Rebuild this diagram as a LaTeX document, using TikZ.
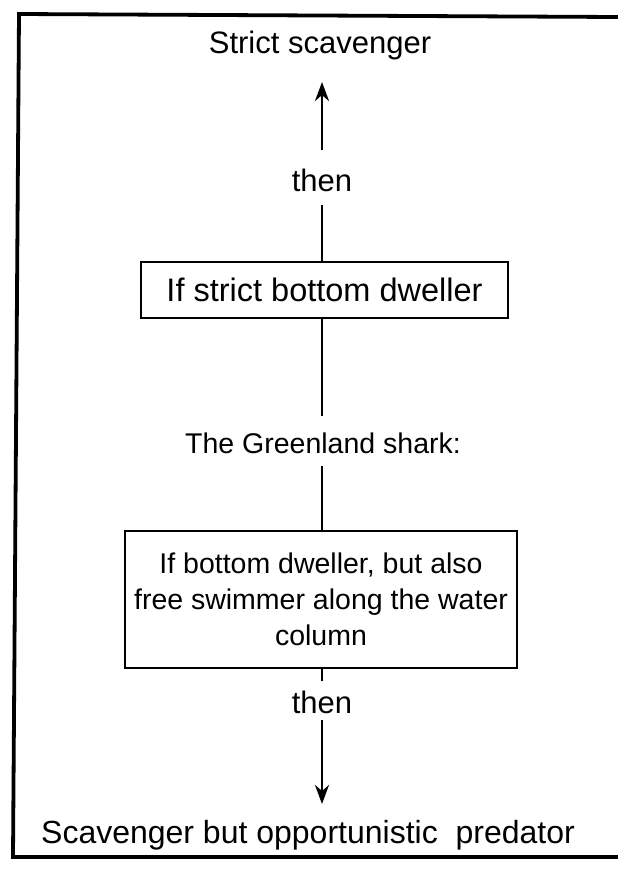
\documentclass[tikz,border=0pt]{standalone}
\usepackage{fontspec}
\setmainfont{Liberation Sans}
\usetikzlibrary{arrows.meta}
\begin{document}
\begin{tikzpicture}[x=1pt,y=-1pt,
  txt/.style={font=\fontsize{31}{37}\selectfont, inner sep=0pt, align=center},
  boxnode/.style={draw, line width=1.8pt, inner sep=0pt, align=center},
  conn/.style={line width=2.8pt},
  arr/.style={line width=2.8pt, -{Stealth[length=19pt,width=14pt,inset=6pt]}}]
\useasboundingbox (0,0) rectangle (618,871);
% frame
\draw[line width=3.8pt] (618,17) -- (19,14) -- (13,857) -- (618,857);
% nodes
\node[txt] (top) at (320,45) {Strict scavenger};
\node[txt] (then1) at (322,180) {then};
\node[boxnode, font=\fontsize{32.5}{38}\selectfont, minimum width=367pt, minimum height=56pt] (b1) at (324.5,290) {If strict bottom dweller};
\node[txt, font=\fontsize{28.5}{36}\selectfont] (gs) at (323,443) {The Greenland shark:};
\node[boxnode, font=\fontsize{28.5}{36}\selectfont, minimum width=392pt, minimum height=137pt] (b2) at (321,599.5)
  {If bottom dweller, but also\\free swimmer along the water\\column};
\node[txt] (then2) at (322,702) {then};
\node[txt, font=\fontsize{32}{38}\selectfont] (bot) at (308,835) {Scavenger but opportunistic\ \ predator};
% coordinates
\coordinate (a1s) at (322,150);
\coordinate (a1e) at (322,82);
\coordinate (l1s) at (322,205);
\coordinate (l2e) at (322,416);
\coordinate (l3s) at (322,466);
\coordinate (l4e) at (322,681);
\coordinate (a2s) at (322,720);
\coordinate (a2e) at (322,804);
% connectors
\draw[arr] (a1s) -- (a1e);
\draw[conn] (l1s) -- (b1.north -| l1s);
\draw[conn] (b1.south -| l1s) -- (l2e);
\draw[conn] (l3s) -- (b2.north -| l3s);
\draw[conn] (b2.south -| l4e) -- (l4e);
\draw[arr] (a2s) -- (a2e);
\end{tikzpicture}
\end{document}
